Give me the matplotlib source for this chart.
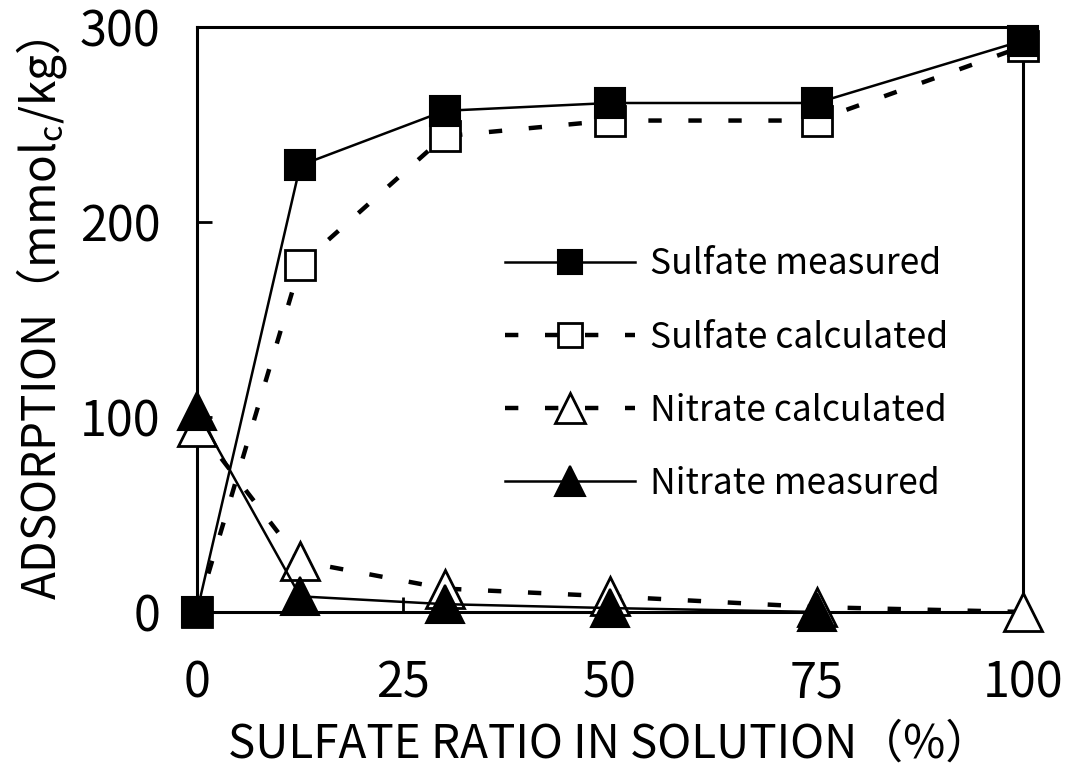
import matplotlib
matplotlib.use('Agg')
import matplotlib.pyplot as plt
import numpy as np

plt.rcParams['font.family'] = ['Noto Sans CJK JP', 'DejaVu Sans']

# values
ratio = [0, 12.5, 30, 50, 75, 100]
sulfate_measured = [0, 229, 257, 261, 261, 293]
sulfate_calculated = [0, 178, 244, 252, 252, 290]
nitrate_calculated = [95, 26, 12, 8, 2.5, 0]
ratio_nm = [0, 12.5, 30, 50, 75]
nitrate_measured = [103, 8, 4, 2, 0]

fig = plt.figure(figsize=(10.67, 7.72), dpi=100)
ax = fig.add_axes([0.1846, 0.2073, 0.7742, 0.7578])

dash = (3, 6)
ax.plot(ratio, sulfate_measured, '-', color='black', lw=1.8, marker='s', ms=22,
        mfc='black', mec='black', mew=1.5, clip_on=False, zorder=6, label='Sulfate measured')
ax.plot(ratio, sulfate_calculated, color='black', lw=3.2, dashes=dash, marker='s', ms=22,
        mfc='white', mec='black', mew=2, clip_on=False, zorder=5, label='Sulfate calculated')
ax.plot(ratio, nitrate_calculated, color='black', lw=3.2, dashes=dash, marker='^', ms=27,
        mfc='white', mec='black', mew=2, clip_on=False, zorder=5, label='Nitrate calculated')
ax.plot(ratio_nm, nitrate_measured, '-', color='black', lw=1.8, marker='^', ms=27,
        mfc='black', mec='black', mew=1.5, clip_on=False, zorder=6, label='Nitrate measured')

ax.set_xlim(0, 100)
ax.set_ylim(0, 300)
ax.set_xticks([0, 25, 50, 75, 100])
ax.set_yticks([0, 100, 200, 300])
ax.tick_params(direction='in', length=11, width=2, labelsize=35,
               top=False, right=False)
ax.tick_params(axis='x', pad=34)
ax.tick_params(axis='y', pad=26)
for s in ax.spines.values():
    s.set_linewidth(2.2)

ax.set_xlabel('SULFATE RATIO IN SOLUTION（%）', fontsize=33, labelpad=8)
ax.set_ylabel(r'ADSORPTION（mmol$_\mathregular{c}$/kg）', fontsize=33, labelpad=8)

ax.legend(loc='upper left', bbox_to_anchor=(0.373, 0.625), frameon=False, fontsize=25.5,
          handlelength=3.67, handletextpad=0.42, labelspacing=1.05, markerscale=0.8,
          borderaxespad=0, borderpad=0)

fig.savefig('out.png', dpi=100)
